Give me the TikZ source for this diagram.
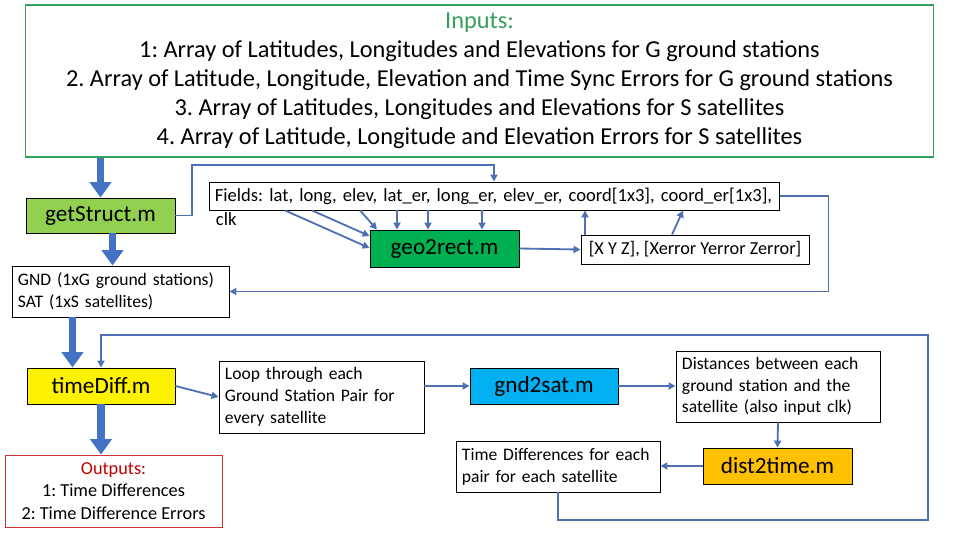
\documentclass[tikz,border=0pt]{standalone}
\usepackage{fontspec}
\setmainfont{Carlito}
\usepackage{tikz}
\usetikzlibrary{arrows.meta,positioning,calc}
\definecolor{flowblue}{RGB}{68,114,196}
\definecolor{linkblue}{RGB}{79,113,180}
\definecolor{limegreen}{RGB}{146,208,80}
\definecolor{darkgreen}{RGB}{0,176,80}
\definecolor{skyblue}{RGB}{0,176,240}
\definecolor{amber}{RGB}{255,192,0}
\definecolor{inputgreen}{RGB}{52,160,90}
\definecolor{outputred}{RGB}{192,0,0}
\definecolor{outputborder}{RGB}{210,50,50}
\frenchspacing
\tikzset{
  script/.style={draw=black,line width=0.6pt,minimum width=3.7cm,
    minimum height=0.9cm,font=\fontsize{16.5}{19}\selectfont},
  infobox/.style={draw=black,line width=0.6pt,align=left,inner xsep=0.15cm,
    font=\fontsize{12.5}{15.5}\selectfont},
  bigflow/.style={-{Triangle[length=11pt,width=15pt]},line width=5pt,flowblue},
  link/.style={-{Triangle[length=5pt,width=5pt]},line width=1.3pt,linkblue},
}

\begin{document}
\begin{tikzpicture}[x=0.025cm,y=-0.025cm]
    \useasboundingbox (0,0) rectangle (960,540);

    \node[draw=inputgreen,line width=0.8pt,minimum width=22.675cm,minimum height=3.8cm,
          align=center,font=\fontsize{17.3}{20.6}\selectfont] (inputs) at (479.5,81)
      {\textcolor{inputgreen}{Inputs:}\\
       1: Array of Latitudes, Longitudes and Elevations for G ground stations\\
       2. Array of Latitude, Longitude, Elevation and Time Sync Errors for G ground stations\\
       3. Array of Latitudes, Longitudes and Elevations for S satellites\\
       4. Array of Latitude, Longitude and Elevation Errors for S satellites};

    \node[script,fill=limegreen,minimum width=3.725cm,minimum height=0.875cm]
      (getstruct) at (100.5,215.5) {getStruct.m};
    \node[infobox,text width=13.95cm,minimum height=0.7cm,font=\fontsize{13.2}{15}\selectfont]
      (fields) at (494,196)
      {Fields: lat, long, elev, lat\_er, long\_er, elev\_er, coord[1x3], coord\_er[1x3],};
    \node[anchor=north west,inner sep=0,font=\fontsize{13.2}{15}\selectfont]
      (clk) at ([xshift=0.18cm,yshift=-0.05cm]fields.south west) {clk};
    \node[script,fill=darkgreen,minimum width=3.725cm,minimum height=0.925cm]
      (geo2rect) at (444.5,248.5) {geo2rect.m};
    \node[infobox,minimum width=5.7cm,minimum height=0.725cm,align=center,
          font=\fontsize{13}{15}\selectfont]
      (xyz) at (695,249.5) {[X Y Z], [Xerror Yerror Zerror]};
    \node[infobox,text width=5.125cm,minimum height=1.275cm]
      (gnd) at (120.5,291.5) {GND (1xG ground stations)\\SAT (1xS satellites)};

    \node[script,fill=yellow] (timediff) at (101,386) {timeDiff.m};
    \node[infobox,text width=4.825cm,minimum height=1.8cm]
      (loop) at (321.5,397) {Loop through each\\Ground Station Pair for\\every satellite};
    \node[script,fill=skyblue] (gnd2sat) at (544,386) {gnd2sat.m};
    \node[infobox,text width=4.8cm,minimum height=1.775cm]
      (dist) at (778,386.5)
      {Distances between each\\ground station and the\\satellite (also input clk)};
    \node[script,fill=amber,minimum width=3.725cm] (dist2time) at (777.5,466) {dist2time.m};
    \node[infobox,text width=4.8cm,minimum height=1.275cm]
      (tdiff) at (558,466.5) {Time Differences for each\\pair for each satellite};
    \node[infobox,draw=outputborder,minimum width=5.425cm,minimum height=1.8cm,align=center,
          font=\fontsize{13}{16}\selectfont]
      (outputs) at (113.5,491)
      {\textcolor{outputred}{Outputs:}\\1: Time Differences\\2: Time Difference Errors};

    \coordinate (topturn) at (192,165);
    \coordinate (loopcorner) at (928,335);

    \draw[bigflow] (getstruct.north |- inputs.south) -- (getstruct.north);
    \draw[bigflow] ([xshift=0.3cm]getstruct.south) -- ([xshift=0.3cm]getstruct.south |- gnd.north);
    \draw[bigflow] ([xshift=-1.2cm]gnd.south) -- ([xshift=-1.2cm]gnd.south |- timediff.north);
    \draw[bigflow] (timediff.south) -- (timediff.south |- outputs.north);

    \draw[link] (getstruct.east) -| (topturn) -| (fields.north);
    \foreach \fx/\gy in {285/248, 312/236}
      \draw[link] (fields.south -| \fx,0) -- (geo2rect.west |- 0,\gy);
    \foreach \fx/\gx in {360/377, 397/397, 428/428, 482/482}
      \draw[link] (fields.south -| \fx,0) -- (geo2rect.north -| \gx,0);
    \draw[link] (geo2rect.east) -- (xyz.west);
    \draw[link] (xyz.north -| 585,0) -- (fields.south -| 585,0);
    \draw[link] (xyz.north -| 672,0) -- (fields.south -| 683,0);
    \draw[link] (fields.east) -- ++(49,0) |- (gnd.east);

    \draw[link] (timediff.east) -- (loop.west);
    \draw[link] (loop.east |- gnd2sat.west) -- (gnd2sat.west);
    \draw[link] (gnd2sat.east) -- (dist.west |- gnd2sat.east);
    \draw[link] (dist.south) -- (dist2time.north);
    \draw[link] (dist2time.west) -- (tdiff.east |- dist2time.west);
    \draw[link] (tdiff.south) -- (tdiff.south |- 0,520) -| (loopcorner) -| (timediff.north);
\end{tikzpicture}
\end{document}
